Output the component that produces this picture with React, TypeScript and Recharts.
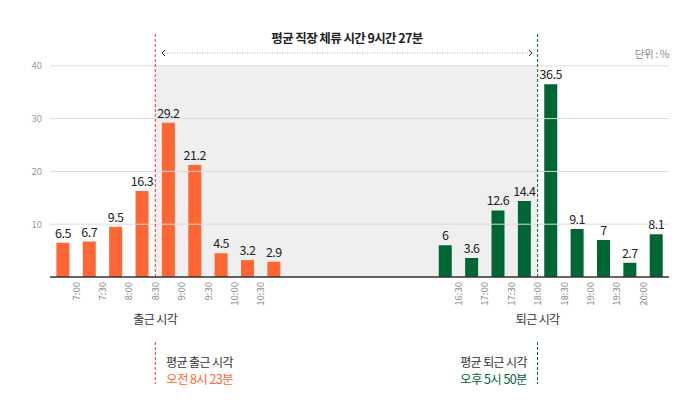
import {
  BarChart,
  Bar,
  Cell,
  XAxis,
  YAxis,
  ReferenceArea,
  ReferenceLine,
  LabelList,
} from "recharts";

// 출근 (morning) and 퇴근 (evening) share of workers, %
const morningValues = [6.5, 6.7, 9.5, 16.3, 29.2, 21.2, 4.5, 3.2, 2.9];
const morningTicks = ["7:00", "7:30", "8:00", "8:30", "9:00", "9:30", "10:00", "10:30"];
const eveningValues = [6, 3.6, 12.6, 14.4, 36.5, 9.1, 7, 2.7, 8.1];
const eveningTicks = ["16:30", "17:00", "17:30", "18:00", "18:30", "19:00", "19:30", "20:00"];
const gapSlots = 12;
const yTicks = [10, 20, 30, 40];

const avgArrival = "8:30";
const avgLeave = "18:00";

const ORANGE = "#ff6633";
const GREEN = "#006633";
const RED_LINE = "#e8383d";
const FONT = "'Noto Sans CJK KR', 'Noto Sans', sans-serif";

type Row = { key: string; tick?: string; v: number | null; group: "am" | "pm" | "gap" };

function buildRows(values: number[], ticks: string[], group: "am" | "pm"): Row[] {
  const out: Row[] = [];
  values.forEach((v, i) => {
    out.push({ key: `${group}${i}`, v, group });
    if (i < ticks.length) out.push({ key: ticks[i], tick: ticks[i], v: null, group });
  });
  return out;
}

const rows: Row[] = [
  ...buildRows(morningValues, morningTicks, "am"),
  ...Array.from({ length: gapSlots }, (_, i) => ({ key: `gap${i}`, v: null, group: "gap" as const })),
  ...buildRows(eveningValues, eveningTicks, "pm"),
];

const spanSlots =
  rows.findIndex((r) => r.key === avgLeave) - rows.findIndex((r) => r.key === avgArrival) + 1;

function TimeTick(props: any) {
  const { x, y, payload } = props;
  const row = rows.find((r) => r.key === payload.value);
  if (!row || !row.tick) return null;
  return (
    <text
      x={x}
      y={y}
      transform={`rotate(-90 ${x} ${y})`}
      textAnchor="end"
      dy={3.5}
      fill="#8a8a8a"
      fontSize={9.5}
    >
      {row.tick}
    </text>
  );
}

function ValueLabel(props: any) {
  const { x, y, width, value } = props;
  if (value == null) return null;
  return (
    <text
      x={x + width / 2}
      y={y - 5}
      textAnchor="middle"
      fill="#222"
      fontSize={12.5}
      letterSpacing={-0.5}
    >
      {value}
    </text>
  );
}

function Shade(props: any) {
  const { x, y, width, height } = props;
  const half = width / spanSlots / 2;
  return <rect x={x + half} y={y} width={width - 2 * half} height={height} fill="#efefef" />;
}

const noteLine = { position: "absolute" as const, whiteSpace: "nowrap" as const, lineHeight: "15px", letterSpacing: -0.6 };

export default function App() {
  return (
    <div
      style={{
        position: "absolute",
        left: 0,
        top: 0,
        width: 700,
        height: 415,
        background: "#fff",
        fontFamily: FONT,
      }}
    >
      <BarChart
        width={700}
        height={415}
        data={rows}
        margin={{ top: 32, right: 31, bottom: 108, left: 0 }}
        barSize={13}
      >
        <ReferenceArea x1={avgArrival} x2={avgLeave} y1={0} y2={40} shape={<Shade />} />
        {yTicks.map((t) => (
          <ReferenceLine key={t} y={t} stroke="#dcdcdc" />
        ))}
        <XAxis
          dataKey="key"
          height={30}
          interval={0}
          tick={<TimeTick />}
          tickLine={false}
          tickSize={0}
          tickMargin={5}
          axisLine={{ stroke: "#333", strokeWidth: 1.5 }}
          padding={{ left: 6.4, right: 6.1 }}
        />
        <YAxis
          width={50}
          domain={[0, 46.4]}
          ticks={yTicks}
          allowDataOverflow
          axisLine={false}
          tickLine={false}
          tick={{ fill: "#999", fontSize: 9.5 }}
        />
        <ReferenceLine
          x={avgArrival}
          stroke={RED_LINE}
          strokeDasharray="3 2"
          label={{ value: "출근 시각", position: "bottom", offset: 38, fill: "#333", fontSize: 12, letterSpacing: -0.6 }}
        />
        <ReferenceLine
          x={avgLeave}
          stroke={GREEN}
          strokeDasharray="3 2"
          label={{ value: "퇴근 시각", position: "bottom", offset: 38, fill: "#333", fontSize: 12, letterSpacing: -0.6 }}
        />
        <Bar dataKey="v" isAnimationActive={false}>
          {rows.map((r) => (
            <Cell key={r.key} fill={r.group === "pm" ? GREEN : ORANGE} />
          ))}
          <LabelList dataKey="v" content={<ValueLabel />} />
        </Bar>
      </BarChart>

      {/* stay-time arrow */}
      <div
        style={{
          position: "absolute",
          left: 247,
          width: 200,
          top: 28,
          textAlign: "center",
          fontSize: 12.5,
          fontWeight: 700,
          color: "#222",
          letterSpacing: -0.6,
          whiteSpace: "nowrap",
        }}
      >
        평균 직장 체류 시간 9시간 27분
      </div>
      <svg style={{ position: "absolute", left: 0, top: 0 }} width={700} height={415} pointerEvents="none">
        <line x1={162} x2={531} y1={53} y2={53} stroke="#aaa" strokeDasharray="1 1.5" />
        <polyline points="165,50 162,53 165,56" fill="none" stroke="#333" strokeWidth={1} />
        <polyline points="529,50 532,53 529,56" fill="none" stroke="#333" strokeWidth={1} />
        <line x1={155.3} x2={155.3} y1={342} y2={384} stroke={RED_LINE} strokeDasharray="3 2" />
        <line x1={537.5} x2={537.5} y1={342} y2={384} stroke={GREEN} strokeDasharray="3 2" />
      </svg>
      <div
        style={{
          position: "absolute",
          right: 700 - 669,
          top: 46,
          fontSize: 10.5,
          color: "#888",
          letterSpacing: -0.4,
        }}
      >
        단위 : %
      </div>

      <div style={{ ...noteLine, left: 166, top: 354, fontSize: 12, color: "#333" }}>평균 출근 시각</div>
      <div style={{ ...noteLine, left: 166, top: 371, fontSize: 12.5, color: ORANGE }}>오전 8시 23분</div>
      <div style={{ ...noteLine, right: 700 - 527, top: 354, fontSize: 12, color: "#333" }}>평균 퇴근 시각</div>
      <div style={{ ...noteLine, right: 700 - 527, top: 371, fontSize: 12.5, color: GREEN }}>오후 5시 50분</div>
    </div>
  );
}
